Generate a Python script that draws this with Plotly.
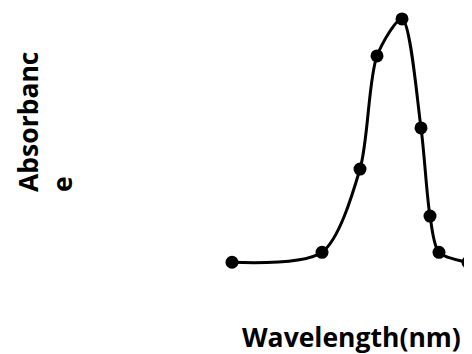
import plotly.graph_objects as go

wavelength = [400, 490, 528, 545, 570, 589, 598, 607, 636]
absorbance = [0.0, 0.041, 0.383, 0.848, 1.0, 0.552, 0.190, 0.041, 0.0]

x_title = "Wavelength(nm)"
y_title = "Absorbanc<br>e"

W, H = 464, 346  # page body has an 8px margin

fig = go.Figure()
fig.add_trace(go.Scatter(
    x=wavelength, y=absorbance, mode="lines+markers",
    line=dict(color="black", width=3, shape="spline", smoothing=0.8),
    marker=dict(color="black", size=13),
    cliponaxis=False,
))

fig.update_layout(
    width=W, height=H,
    margin=dict(l=0, r=0, t=0, b=0),
    paper_bgcolor="white", plot_bgcolor="white",
    showlegend=False,
    xaxis=dict(range=[176, 640], visible=False, fixedrange=True),
    yaxis=dict(range=[-0.377, 1.045], visible=False, fixedrange=True),
    annotations=[
        dict(text="<b>" + x_title + "</b>", xref="paper", yref="paper",
             x=343 / W, y=1 - 329 / H, xanchor="center", yanchor="middle",
             showarrow=False, font=dict(family="Open Sans", size=26.5, color="black")),
        dict(text="<b>" + y_title + "</b>", xref="paper", yref="paper",
             x=37 / W, y=1 - 114 / H, xanchor="center", yanchor="middle",
             textangle=-90, align="left",
             showarrow=False, font=dict(family="Open Sans", size=26.5, color="black")),
    ],
)

fig.write_html("out.html")
